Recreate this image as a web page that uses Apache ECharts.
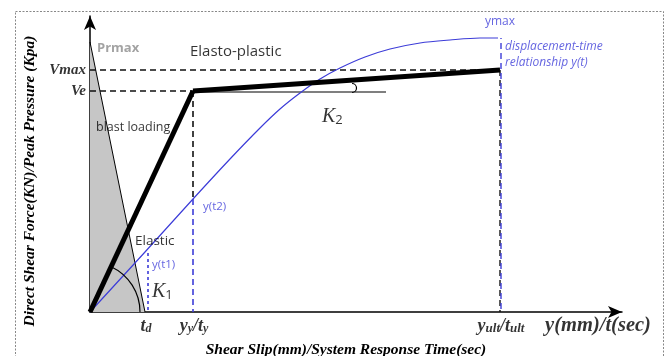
<!DOCTYPE html>
<html><head><meta charset="utf-8">
<script src="https://cdn.jsdelivr.net/npm/echarts@6/dist/echarts.min.js"></script>
<style>html,body{margin:0;padding:0;background:#fff}#c{width:667px;height:356px}</style>
</head><body><div id="c"></div>
<script>
// ---------- data (x: slip / time units, y: force / pressure units) ----------
const blastLoad = [[0, 270], [55, 0]];
const elasticBranch = [[0, 0], [103, 221]];
const plasticBranch = [[103, 221], [410, 242]];
const k2Reference = [[103, 220], [296, 220]];
const displacementCurve = [[0, 0], [55, 60], [103, 113], [140, 153], [170, 184], [190, 203], [210, 219], [230, 233], [250, 244], [275, 255], [300, 263], [330, 269], [360, 272], [390, 274], [408, 274]];
const vmaxGuide = [[0, 242], [410, 242]];
const veGuide = [[0, 221], [103, 221]];
const yyGuideBlack = [[103, 221], [103, 113]];
const yyGuideBlue = [[103, 113], [103, 0]];
const t1Guide = [[58, 59], [58, 0]];
const yultGuideBlack = [[410, 242], [410, 0]];
const yultGuideBlue = [[411, 274], [411, 0]];
const xTickValues = [55, 103, 410];
const xTickNames = ['td', 'yy', 'yult'];
const yTickValues = [242, 221];
const yTickNames = ['Vmax', 'Ve'];
const angleArcs = [[0, 0, 50, 65, 0], [262, 224, 4.5, 90, -90]];
const annotations = [
  ['Prmax', 7, 264], ['Elasto-plastic', 100, 260], ['blast loading', 6, 185],
  ['Elastic', 45, 71], ['y(t1)', 62, 47], ['K1', 62, 21], ['y(t2)', 113, 105],
  ['K2', 232, 196], ['ymax', 395, 290], ['disp1', 415, 265], ['disp2', 415, 249],
  ['xunit', 508, 0]
];

const BLUE = '#3c3cd8';
const SERIF = '"Liberation Serif", "DejaVu Serif", serif';
const SANS = '"Open Sans", "Liberation Sans", sans-serif';

const chart = echarts.init(document.getElementById('c'), null, {renderer: 'canvas'});

function lineSeries(data, color, width, type, extra) {
  return Object.assign({
    type: 'line', data: data, symbol: 'none', silent: true, animation: false,
    lineStyle: {color: color, width: width, type: type || 'solid'}
  }, extra || {});
}

const richSerif = {
  b: {fontFamily: SERIF, fontStyle: 'italic', fontWeight: 'bold', fontSize: 18, color: '#000', lineHeight: 21, verticalAlign: 'bottom'},
  s: {fontFamily: SERIF, fontStyle: 'italic', fontWeight: 'bold', fontSize: 12, color: '#000', lineHeight: 14, verticalAlign: 'bottom'},
  u: {fontFamily: SERIF, fontStyle: 'italic', fontWeight: 'bold', fontSize: 13, color: '#000', lineHeight: 15, verticalAlign: 'bottom'},
  K: {fontFamily: SERIF, fontStyle: 'italic', fontSize: 20, color: '#000', lineHeight: 22, verticalAlign: 'bottom'},
  n: {fontFamily: SANS, fontSize: 13, color: '#000', lineHeight: 15, verticalAlign: 'bottom'}
};

const tickLabelText = {
  td: '{b|t}{s|d}',
  yy: '{b|y}{s|y}{b|/t}{s|y}',
  yult: '{b|y}{u|ult}{b|/t}{u|ult}'
};

const annotationStyle = {
  'Prmax': {text: 'Prmax', style: {color: '#8c8c8c', fontWeight: 'bold', fontSize: 13, fontFamily: SANS}},
  'Elasto-plastic': {text: 'Elasto-plastic', style: {color: '#000', fontSize: 15, fontFamily: SANS}},
  'blast loading': {text: 'blast loading', style: {color: '#000', fontSize: 12.5, fontFamily: SANS}},
  'Elastic': {text: 'Elastic', style: {color: '#000', fontSize: 13.5, fontFamily: SANS}},
  'y(t1)': {text: 'y(t1)', style: {color: BLUE, fontSize: 11.5, fontFamily: SANS}},
  'y(t2)': {text: 'y(t2)', style: {color: BLUE, fontSize: 11.5, fontFamily: SANS}},
  'ymax': {text: 'ymax', style: {color: BLUE, fontSize: 12, fontFamily: SANS}},
  'disp1': {text: 'displacement-time', style: {color: BLUE, fontSize: 12, fontStyle: 'italic', fontFamily: SANS}},
  'disp2': {text: 'relationship y(t)', style: {color: BLUE, fontSize: 12, fontStyle: 'italic', fontFamily: SANS}},
  'K1': {text: '{K|K}{n|1}', style: {rich: richSerif}},
  'K2': {text: '{K|K}{n|2}', style: {rich: richSerif}},
  'xunit': {text: 'y(mm)/t(sec)', style: {color: '#000', fontSize: 20.5, fontWeight: 'bold', fontStyle: 'italic', fontFamily: SERIF}, pos: 'bottom'}
};

const annotationData = annotations.map(function (a) {
  const st = annotationStyle[a[0]];
  return {
    value: [a[1], a[2]],
    label: Object.assign({show: true, formatter: st.text, position: st.pos || 'right', distance: st.pos ? 4 : 0}, st.style)
  };
});

const xTickData = xTickValues.map(function (v, i) {
  return {value: [v, 0], label: {show: true, position: 'bottom', distance: 2, formatter: tickLabelText[xTickNames[i]], rich: richSerif,
    offset: [1, 0]}};
});
const yTickData = yTickValues.map(function (v, i) {
  return {value: [0, v], label: {show: true, position: 'left', distance: 4, formatter: yTickNames[i],
    fontFamily: SERIF, fontStyle: 'italic', fontWeight: 'bold', fontSize: 15, color: '#000'}};
});

const option = {
  backgroundColor: '#fff',
  animation: false,
  grid: {left: 90, right: 45, top: 16, bottom: 44, containLabel: false, outerBoundsMode: 'none'},
  xAxis: {
    type: 'value', min: 0, max: 532,
    name: 'Shear Slip(mm)/System Response Time(sec)', nameLocation: 'middle', nameGap: 30,
    nameTextStyle: {fontFamily: SERIF, fontStyle: 'italic', fontWeight: 'bold', fontSize: 15.5, color: '#000', padding: [0, 20, 0, 0]},
    axisLine: {lineStyle: {color: '#000', width: 1.5}, symbol: ['none', 'arrow'], symbolSize: [9, 14]},
    axisTick: {show: false}, axisLabel: {show: false}, splitLine: {show: false}
  },
  yAxis: {
    type: 'value', min: 0, max: 296,
    name: 'Direct Shear Force(KN)/Peak Pressure (Kpa)', nameLocation: 'middle', nameGap: 52,
    nameTextStyle: {fontFamily: SERIF, fontStyle: 'italic', fontWeight: 'bold', fontSize: 15.5, color: '#000', padding: [0, 34, 0, 0]},
    axisLine: {lineStyle: {color: '#000', width: 1.5}, symbol: ['none', 'arrow'], symbolSize: [9, 14]},
    axisTick: {show: false}, axisLabel: {show: false}, splitLine: {show: false}
  },
  graphic: [{
    type: 'rect', left: 13, top: 9, shape: {width: 648, height: 400}, silent: true, z: -1,
    style: {fill: 'none', stroke: '#888', lineWidth: 1, lineDash: [2, 1.5]}
  }],
  series: [
    lineSeries(blastLoad, '#000', 1, 'solid', {areaStyle: {color: '#c6c6c6', opacity: 1}, z: 1}),
    lineSeries(vmaxGuide, '#111', 1.6, [6, 4], {z: 2}),
    lineSeries(veGuide, '#111', 1.6, [6, 4], {z: 2}),
    lineSeries(yyGuideBlack, '#111', 1.6, [6, 4], {z: 2}),
    lineSeries(yyGuideBlue, BLUE, 1.6, [6, 4], {z: 2}),
    lineSeries(t1Guide, BLUE, 1.6, [3, 3], {z: 2}),
    lineSeries(yultGuideBlack, '#111', 1.4, [6, 4], {z: 2}),
    lineSeries(yultGuideBlue, BLUE, 1.4, [6, 4], {z: 2, lineStyle: {color: BLUE, width: 1.4, type: [6, 4], dashOffset: 5}}),
    lineSeries(k2Reference, '#000', 1.2, 'solid', {z: 3}),
    lineSeries(displacementCurve, BLUE, 1.2, 'solid', {smooth: 0.3, z: 4}),
    lineSeries(elasticBranch, '#000', 5, 'solid', {z: 5}),
    lineSeries(plasticBranch, '#000', 5, 'solid', {z: 5}),
    {
      type: 'custom', silent: true, z: 6, data: angleArcs,
      renderItem: function (params, api) {
        const c = api.coord([api.value(0), api.value(1)]);
        const r = api.size([api.value(2), 0])[0];
        return {
          type: 'arc',
          shape: {cx: c[0], cy: c[1], r: r, startAngle: -api.value(3) * Math.PI / 180, endAngle: -api.value(4) * Math.PI / 180, clockwise: true},
          style: {stroke: '#000', lineWidth: 1.2, fill: null}
        };
      }
    },
    {type: 'scatter', symbolSize: 0, silent: true, z: 10, clip: false, data: annotationData},
    {type: 'scatter', symbolSize: 0, silent: true, z: 10, clip: false, data: xTickData},
    {type: 'scatter', symbolSize: 0, silent: true, z: 10, clip: false, data: yTickData}
  ]
};
chart.setOption(option);
</script></body></html>
